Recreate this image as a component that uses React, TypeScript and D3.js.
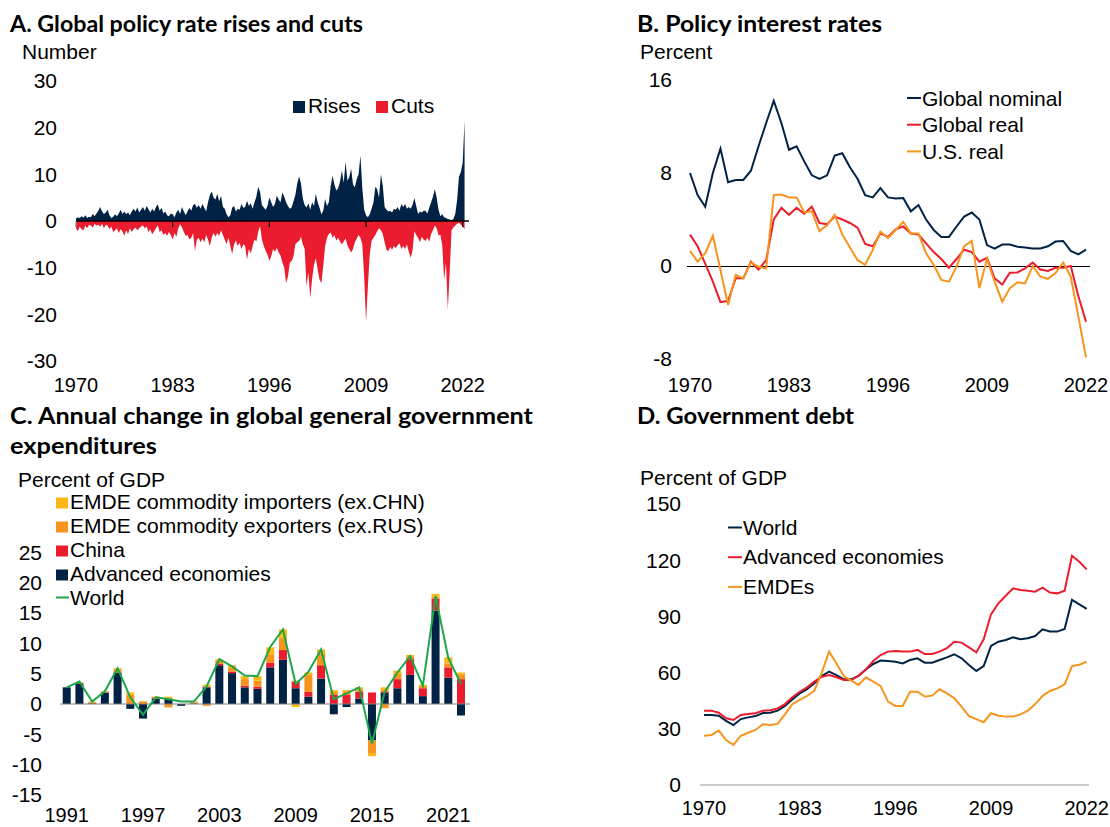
import React from 'react';
import * as d3 from 'd3';

const W = 1110;
const H = 827;
const NAVY = '#002345';
const RED = '#EB1C2D';
const ORANGE = '#F7941D';
const YELLOW = '#FDB714';
const GREEN = '#1DA64A';
const FONT = "'Liberation Sans', Arial, sans-serif";
const TFONT = "Lato, 'Open Sans', sans-serif";

// ---------- Panel A: quarterly counts, 1970Q1 .. 2022Q2 ----------
const aStart = 1970;
const aRises = [
  0.5, 0.8, 0.6, 1.0, 0.7, 1.2, 0.6, 0.9, 0.8, 1.5, 1.0, 1.6, 2.2, 3.0, 2.0, 1.5,
  1.8, 2.4, 1.2, 0.6, 0.9, 1.4, 1.0, 1.6, 2.4, 1.5, 2.0, 1.4, 1.8, 1.2, 2.0, 2.6,
  2.0, 2.9, 1.8, 2.4, 3.0, 2.2, 3.2, 2.5, 1.8, 2.6, 2.0, 3.0, 3.5, 2.2, 2.8, 1.6,
  2.0, 1.2, 1.0, 1.6, 1.4, 0.8, 1.8, 2.4, 1.5, 3.0, 2.0, 1.2, 2.0, 2.8, 2.2, 3.4,
  3.6, 2.8, 3.4, 2.6, 3.6, 2.8, 2.0, 4.0, 5.5, 6.3, 5.0, 4.6, 5.8, 4.2, 5.4, 3.0,
  2.6, 1.4, 0.8, 1.2, 2.8, 3.2, 2.0, 2.6, 2.4, 3.6, 2.8, 3.0, 4.3, 3.2, 3.8, 2.6,
  4.0, 5.2, 7.3, 6.2, 3.4, 2.9, 2.4, 3.2, 5.0, 4.0, 3.0, 3.6, 5.4, 4.6, 4.0, 6.1,
  5.2, 4.0, 3.2, 2.6, 2.9, 4.2, 5.6, 8.0, 9.6, 8.0, 4.8, 3.4, 2.9, 3.8, 2.4, 4.0,
  3.2, 5.8, 4.0, 2.8, 1.4, 2.2, 4.7, 3.2, 4.0, 7.5, 9.7, 7.8, 6.5, 7.0, 8.4, 10.8,
  8.2, 12.7, 8.6, 9.4, 11.2, 7.8, 7.2, 9.0, 10.0, 14.0, 7.0, 2.4, 1.2, 0.8, 1.4, 2.6,
  4.0, 7.3, 6.8, 5.0, 10.0, 7.6, 3.0, 2.4, 2.0, 2.2, 1.8, 2.6, 2.4, 3.0, 2.2, 3.6,
  3.0, 3.6, 2.6, 3.0, 2.6, 3.4, 4.9, 3.2, 1.5, 2.0, 1.8, 2.2, 2.2, 1.6, 2.8, 4.0,
  5.2, 6.8, 5.0, 2.4, 1.0, 1.4, 0.8, 0.6, 0.4, 0.3, 0.2, 0.4, 1.5, 4.5, 9.5, 10.5,
  12.5, 21.6,
];
const aCuts = [
  -1.5, -2.2, -1.2, -1.8, -2.0, -1.0, -1.6, -0.8, -1.0, -1.4, -0.6, -1.0, -0.8, -1.2, -0.6, -1.6,
  -0.8, -1.0, -1.8, -1.2, -2.4, -2.0, -1.6, -2.6, -1.8, -2.2, -3.2, -2.0, -2.8, -1.6, -2.4, -1.8,
  -1.4, -2.0, -1.6, -1.2, -1.0, -1.6, -1.2, -2.4, -1.8, -2.9, -2.2, -1.6, -1.0, -2.4, -2.0, -3.0,
  -2.6, -3.2, -2.4, -3.0, -4.0, -2.6, -3.4, -1.6, -0.7, -1.4, -2.4, -3.2, -3.0, -4.0, -3.6, -2.6,
  -6.5, -4.0, -3.6, -4.6, -3.8, -4.6, -3.0, -4.0, -5.4, -3.6, -2.6, -3.4, -2.6, -3.2, -2.0, -3.0,
  -4.0, -5.0, -3.6, -5.4, -7.1, -5.0, -4.2, -5.4, -4.7, -6.0, -5.0, -5.4, -8.3, -6.0, -7.0, -5.4,
  -4.0, -4.4, -2.4, -1.1, -4.0, -5.4, -6.4, -7.2, -8.6, -7.6, -6.0, -6.6, -5.8, -6.8, -7.4, -9.0,
  -10.0, -13.3, -12.0, -9.0, -8.6, -7.6, -5.0, -4.6, -4.3, -3.4, -5.0, -6.0, -14.0, -11.0, -16.6, -12.4,
  -9.4, -8.0, -10.4, -12.6, -13.3, -9.6, -5.4, -3.6, -2.8, -2.5, -3.6, -3.0, -4.2, -3.6, -4.4, -5.0,
  -4.4, -3.8, -5.2, -6.0, -6.8, -6.0, -4.6, -3.8, -3.0, -3.6, -5.0, -12.0, -21.6, -14.0, -7.2, -4.2,
  -3.6, -3.0, -2.2, -1.6, -2.0, -2.8, -4.6, -6.2, -6.5, -5.6, -6.2, -5.4, -5.8, -5.2, -4.8, -6.0,
  -5.4, -6.0, -5.0, -6.6, -7.9, -6.4, -2.2, -3.0, -3.6, -4.6, -3.4, -4.0, -4.3, -3.6, -4.4, -2.8,
  -2.0, -1.0, -1.6, -3.0, -3.0, -5.2, -12.6, -9.0, -19.0, -11.0, -2.0, -1.4, -1.0, -0.6, -0.4, -0.8,
  -1.2, -1.8,
];
const aXTicks = [1970, 1983, 1996, 2009, 2022];
const aYTicks = [30, 20, 10, 0, -10, -20, -30];

// ---------- Panel B: annual policy rates, 1970..2022 ----------
const bYears = d3.range(1970, 2023);
const bNominal = [
  8.0, 6.1, 5.1, 8.0, 10.1, 7.2, 7.4, 7.4, 8.2, 10.3, 12.3, 14.2, 12.3, 10.0, 10.3, 9.0,
  7.8, 7.5, 7.8, 9.5, 9.7, 8.5, 7.5, 6.1, 5.9, 6.7, 5.9, 5.8, 5.85, 4.7, 5.25, 4.0,
  3.1, 2.5, 2.5, 3.4, 4.25, 4.6, 4.0, 1.8, 1.5, 1.85, 1.85, 1.65, 1.6, 1.5, 1.5, 1.7,
  2.1, 2.15, 1.3, 1.0, 1.4,
];
const bGlobalReal = [
  2.7, 1.7, 0.2, -1.35, -3.1, -3.0, -1.06, -1.06, 0.37, -0.3, 0.5, 4.0, 5.0, 4.4, 5.0, 4.5,
  5.1, 3.7, 3.6, 4.25, 4.0, 3.7, 3.3, 1.9, 1.7, 2.8, 2.5, 3.15, 3.4, 2.8, 2.7, 1.95,
  1.2, 0.6, -0.15, 0.6, 1.4, 1.2, 0.37, 0.7, -1.06, -1.6, -0.57, -0.55, -0.2, 0.3, -0.3, -0.43,
  -0.15, -0.15, 0.0, -2.6, -4.8,
];
const bUSReal = [
  1.3, 0.37, 1.1, 2.6, -0.34, -3.35, -0.77, -1.06, 0.3, -0.06, -0.2, 6.1, 6.15, 5.9, 5.9, 4.6,
  4.7, 3.0, 3.5, 4.4, 2.7, 1.6, 0.5, 0.1, 1.4, 2.95, 2.4, 3.1, 3.8, 2.8, 2.8, 1.1,
  0.1, -1.2, -1.35, -0.06, 1.7, 2.15, -1.9, 0.6, -1.35, -3.07, -1.9, -1.4, -1.5, 0.0, -0.92, -1.1,
  -0.6, 0.3, -0.92, -4.36, -7.86,
];
const bXTicks = [1970, 1983, 1996, 2009, 2022];
const bYTicks = [16, 8, 0, -8];

// ---------- Panel C: annual change in expenditures, 1991..2022 ----------
const cYears = d3.range(1991, 2023);
const cAdvanced = [
  2.75, 3.4, 0.1, 1.9, 5.2, -0.8, -2.4, 0.9, 0.9, -0.3, 0.1, 2.75, 6.4, 5.1, 2.75, 2.5,
  6.05, 7.3, 2.6, 1.2, 4.2, -1.7, -0.5, 0.9, -6.0, 1.9, 2.6, 4.8, 1.3, 15.4, 4.35, -1.9,
];
const cChina = [
  0.0, 0.0, 0.0, 0.0, 0.0, 0.0, 0.0, 0.15, 0.0, 0.0, 0.0, 0.1, 0.2, 0.2, 0.25, 0.35,
  0.75, 1.6, 1.1, 0.8, 2.2, 1.5, 1.5, 1.1, 1.9, 0.2, 1.5, 2.6, 1.3, 2.0, 1.7, 4.1,
];
const cExporters = [
  0.0, 0.1, 0.2, 0.2, 0.4, 1.5, 0.4, 0.1, -0.55, 0.0, 0.2, -0.3, 0.5, 0.75, 1.1, 1.0,
  1.3, 2.1, 0.15, 2.8, 1.85, 0.5, 0.5, 0.4, -2.1, -0.7, 0.85, 0.5, 0.4, 0.3, 0.65, 0.8,
];
const cImporters = [
  0.0, 0.1, 0.1, 0.0, 0.3, 0.4, 0.1, 0.1, 0.3, 0.0, 0.1, 0.35, 0.3, 0.35, 0.5, 0.75,
  1.25, 1.3, -0.5, 0.4, 0.75, 0.3, 0.3, 0.35, -0.5, 0.65, 0.55, 0.2, 0.2, 0.45, 1.0, 0.3,
];
const cWorld = [
  2.75, 3.7, 0.4, 2.1, 5.9, 1.1, -1.8, 1.1, 0.8, 0.4, 0.4, 2.9, 7.4, 6.2, 4.7, 4.6,
  9.4, 12.3, 3.3, 5.3, 9.0, 0.8, 1.75, 2.75, -6.5, 2.0, 5.2, 7.9, 3.0, 17.8, 7.6, 3.3,
];
const cXTicks = [1991, 1997, 2003, 2009, 2015, 2021];
const cYTicks = [25, 20, 15, 10, 5, 0, -5, -10, -15];

// ---------- Panel D: government debt, 1970..2022 ----------
const dYears = d3.range(1970, 2023);
const dWorld = [
  37.4, 37.4, 37.0, 34.2, 32.0, 35.2, 36.1, 36.8, 38.4, 38.6, 39.7, 42.2, 45.7, 48.9, 51.2, 54.3,
  58.2, 60.5, 58.7, 56.4, 56.4, 58.2, 61.7, 64.6, 66.4, 66.2, 65.8, 64.9, 66.7, 67.6, 65.3, 65.3,
  66.7, 68.1, 69.8, 67.6, 64.1, 60.9, 63.5, 74.2, 76.5, 77.4, 78.8, 77.8, 78.3, 79.5, 83.1, 81.9,
  81.9, 83.3, 98.8, 96.4, 94.0,
];
const dAdvanced = [
  39.7, 39.7, 38.6, 35.6, 34.7, 37.4, 37.9, 38.3, 39.7, 39.9, 40.9, 43.2, 46.8, 49.8, 52.1, 55.2,
  57.8, 58.7, 57.5, 56.0, 56.0, 58.4, 61.7, 66.2, 69.4, 71.2, 71.5, 71.2, 71.2, 72.1, 69.9, 69.9,
  71.2, 73.0, 76.5, 76.0, 73.5, 70.8, 77.8, 91.1, 97.0, 101.0, 105.0, 104.1, 103.7, 103.2, 105.3, 102.7,
  102.3, 103.7, 122.4, 119.2, 115.1,
];
const dEMDE = [
  26.3, 26.7, 29.0, 24.0, 21.4, 26.3, 27.9, 29.4, 32.4, 32.0, 32.6, 37.7, 43.1, 45.4, 47.5, 50.4,
  60.0, 71.2, 64.9, 58.2, 55.7, 53.4, 57.5, 55.2, 52.8, 44.5, 42.2, 42.2, 49.8, 49.8, 47.2, 47.7,
  51.1, 48.9, 46.3, 41.8, 36.8, 35.2, 33.5, 38.3, 37.0, 36.5, 36.5, 37.7, 39.7, 43.2, 47.5, 50.2,
  51.6, 53.7, 63.5, 64.2, 65.8,
];
const dXTicks = [1970, 1983, 1996, 2009, 2022];
const dYTicks = [150, 120, 90, 60, 30, 0];

function Title({ x, y, text, width }: { x: number; y: number; text: string; width: number }) {
  return (
    <text x={x} y={y} fontFamily={TFONT} fontWeight={700} fontSize={23} fill="#000"
      textLength={width} lengthAdjust="spacingAndGlyphs">{text}</text>
  );
}

export default function App() {
  const fs = 21;   // axis titles, legends, y tick labels
  const fx = 20;   // x tick labels

  // ---- Panel A ----
  const axX = d3.scaleLinear().domain([1970, 2022]).range([76, 462.7]);
  const axY = d3.scaleLinear().domain([-30, 30]).range([360.8, 81]);
  const aData = aRises.map((r, i) => ({ t: aStart + i / 4, r, c: aCuts[i] }));
  const risesArea = d3.area<any>().x(d => axX(d.t)).y0(axY(0)).y1(d => axY(d.r))(aData) || '';
  const cutsArea = d3.area<any>().x(d => axX(d.t)).y0(axY(0)).y1(d => axY(d.c))(aData) || '';
  const aEnd = axX(aData[aData.length - 1].t);

  // ---- Panel B ----
  const bxX = d3.scaleLinear().domain([1970, 2022]).range([690, 1086]);
  const bxY = d3.scaleLinear().domain([-8, 16]).range([359, 80]);
  const bLine = (vals: number[]) =>
    d3.line<number>().x((_, i) => bxX(bYears[i])).y(v => bxY(v))(vals) || '';
  const bSeries = [
    { name: 'Global nominal', vals: bNominal, color: NAVY },
    { name: 'Global real', vals: bGlobalReal, color: RED },
    { name: 'U.S. real', vals: bUSReal, color: ORANGE },
  ];

  // ---- Panel C ----
  const cX = d3.scaleLinear().domain([1991, 2022]).range([66.7, 461.0]);
  const cY = d3.scaleLinear().domain([-15, 25]).range([794.9, 552.5]);
  const barW = 8;
  const cRows = cYears.map((y, i) => ({
    year: y, adv: cAdvanced[i], china: cChina[i], exp: cExporters[i], imp: cImporters[i],
  }));
  const cKeys = ['adv', 'china', 'exp', 'imp'];
  const cColors: Record<string, string> = { adv: NAVY, china: RED, exp: ORANGE, imp: YELLOW };
  const stacked = d3.stack<any>().keys(cKeys).offset(d3.stackOffsetDiverging)(cRows);
  const worldLine = d3.line<number>().x((_, i) => cX(cYears[i])).y(v => cY(v))(cWorld) || '';
  const cLegend = [
    { name: 'EMDE commodity importers (ex.CHN)', color: YELLOW, type: 'sq' },
    { name: 'EMDE commodity exporters (ex.RUS)', color: ORANGE, type: 'sq' },
    { name: 'China', color: RED, type: 'sq' },
    { name: 'Advanced economies', color: NAVY, type: 'sq' },
    { name: 'World', color: GREEN, type: 'line' },
  ];

  // ---- Panel D ----
  const dX = d3.scaleLinear().domain([1970, 2022]).range([704, 1086.7]);
  const dY = d3.scaleLinear().domain([0, 150]).range([785, 504]);
  const dLine = (vals: number[]) =>
    d3.line<number>().x((_, i) => dX(dYears[i])).y(v => dY(v))(vals) || '';
  const dSeries = [
    { name: 'World', vals: dWorld, color: NAVY },
    { name: 'Advanced economies', vals: dAdvanced, color: RED },
    { name: 'EMDEs', vals: dEMDE, color: ORANGE },
  ];

  return (
    <svg width={W} height={H} viewBox={`0 0 ${W} ${H}`}
      style={{ position: 'absolute', left: 0, top: 0, background: '#fff' }}
      fontFamily={FONT}>
      <rect x={0} y={0} width={W} height={H} fill="#fff" />

      {/* ===== Panel A ===== */}
      <Title x={10} y={32} text="A. Global policy rate rises and cuts" width={353} />
      <text x={22} y={59} fontSize={fs}>Number</text>
      {aYTicks.map(t => (
        <text key={t} x={57} y={axY(t)} dy="0.35em" textAnchor="end" fontSize={fs}>{t}</text>
      ))}
      <path d={risesArea} fill={NAVY} />
      <path d={cutsArea} fill={RED} />
      <line x1={axX(1970)} x2={Math.max(aEnd, 469)} y1={axY(0)} y2={axY(0)} stroke="#000" strokeWidth={1.5} />
      {aXTicks.map(t => (
        <g key={t}>
          <line x1={axX(t)} x2={axX(t)} y1={axY(0)} y2={axY(0) + 6} stroke={t === 1970 ? '#888' : '#000'} strokeWidth={1.2} />
          <text x={axX(t)} y={392} textAnchor="middle" fontSize={fx}>{t}</text>
        </g>
      ))}
      <rect x={293} y={101} width={12} height={12} fill={NAVY} />
      <text x={308} y={113} fontSize={fs}>Rises</text>
      <rect x={376} y={101} width={12} height={12} fill={RED} />
      <text x={391} y={113} fontSize={fs}>Cuts</text>

      {/* ===== Panel B ===== */}
      <Title x={637} y={32} text="B. Policy interest rates" width={245} />
      <text x={640} y={59} fontSize={fs}>Percent</text>
      {bYTicks.map(t => (
        <text key={t} x={672} y={bxY(t)} dy="0.35em" textAnchor="end" fontSize={fs}>{t}</text>
      ))}
      <line x1={687} x2={1090} y1={bxY(0) + 0.5} y2={bxY(0) + 0.5} stroke="#000" strokeWidth={1} />
      {bSeries.map(s => (
        <path key={s.name} d={bLine(s.vals)} fill="none" stroke={s.color} strokeWidth={2} />
      ))}
      {bXTicks.map(t => (
        <text key={t} x={bxX(t)} y={392} textAnchor="middle" fontSize={fx}>{t}</text>
      ))}
      {bSeries.map((s, i) => (
        <g key={s.name}>
          <line x1={907} x2={921} y1={98 + i * 26.7} y2={98 + i * 26.7} stroke={s.color} strokeWidth={2} />
          <text x={922} y={105.5 + i * 26.7} fontSize={fs}>{s.name}</text>
        </g>
      ))}

      {/* ===== Panel C ===== */}
      <Title x={10} y={424} text="C. Annual change in global general government" width={523} />
      <Title x={10} y={454} text="expenditures" width={147} />
      <text x={18} y={487} fontSize={fs}>Percent of GDP</text>
      {cYTicks.map(t => (
        <text key={t} x={42} y={cY(t)} dy="0.35em" textAnchor="end" fontSize={fs}>{t}</text>
      ))}
      {stacked.map(layer => (
        <g key={layer.key} fill={cColors[layer.key]}>
          {layer.map((d, i) => {
            const y0 = cY(d[0]);
            const y1 = cY(d[1]);
            return (
              <rect key={i} x={cX(cYears[i]) - barW / 2} y={Math.min(y0, y1)} width={barW}
                height={Math.abs(y0 - y1)} />
            );
          })}
        </g>
      ))}
      <line x1={60} x2={470} y1={cY(0)} y2={cY(0)} stroke="#808080" strokeWidth={1.2} />
      <path d={worldLine} fill="none" stroke={GREEN} strokeWidth={2} />
      {cXTicks.map(t => (
        <text key={t} x={cX(t)} y={822} textAnchor="middle" fontSize={fx}>{t}</text>
      ))}
      {cLegend.map((l, i) => {
        const base = 508.5 + i * 24;
        return (
          <g key={l.name}>
            {l.type === 'sq'
              ? <rect x={56} y={base - 11} width={12} height={11} fill={l.color} />
              : <line x1={56} x2={69} y1={base - 7} y2={base - 7} stroke={l.color} strokeWidth={2} />}
            <text x={70} y={base} fontSize={fs}>{l.name}</text>
          </g>
        );
      })}

      {/* ===== Panel D ===== */}
      <Title x={637} y={424} text="D. Government debt" width={217} />
      <text x={640} y={485} fontSize={fs}>Percent of GDP</text>
      {dYTicks.map(t => (
        <text key={t} x={681} y={dY(t)} dy="0.35em" textAnchor="end" fontSize={fs}>{t}</text>
      ))}
      <line x1={700} x2={1089} y1={dY(0)} y2={dY(0)} stroke="#999" strokeWidth={1.2} />
      {dSeries.map(s => (
        <path key={s.name} d={dLine(s.vals)} fill="none" stroke={s.color} strokeWidth={2} />
      ))}
      {dXTicks.map(t => (
        <text key={t} x={dX(t)} y={815} textAnchor="middle" fontSize={fx}>{t}</text>
      ))}
      {dSeries.map((s, i) => (
        <g key={s.name}>
          <line x1={728} x2={742} y1={527.5 + i * 29.7} y2={527.5 + i * 29.7} stroke={s.color} strokeWidth={2} />
          <text x={743} y={534.5 + i * 29.7} fontSize={fs}>{s.name}</text>
        </g>
      ))}
    </svg>
  );
}
